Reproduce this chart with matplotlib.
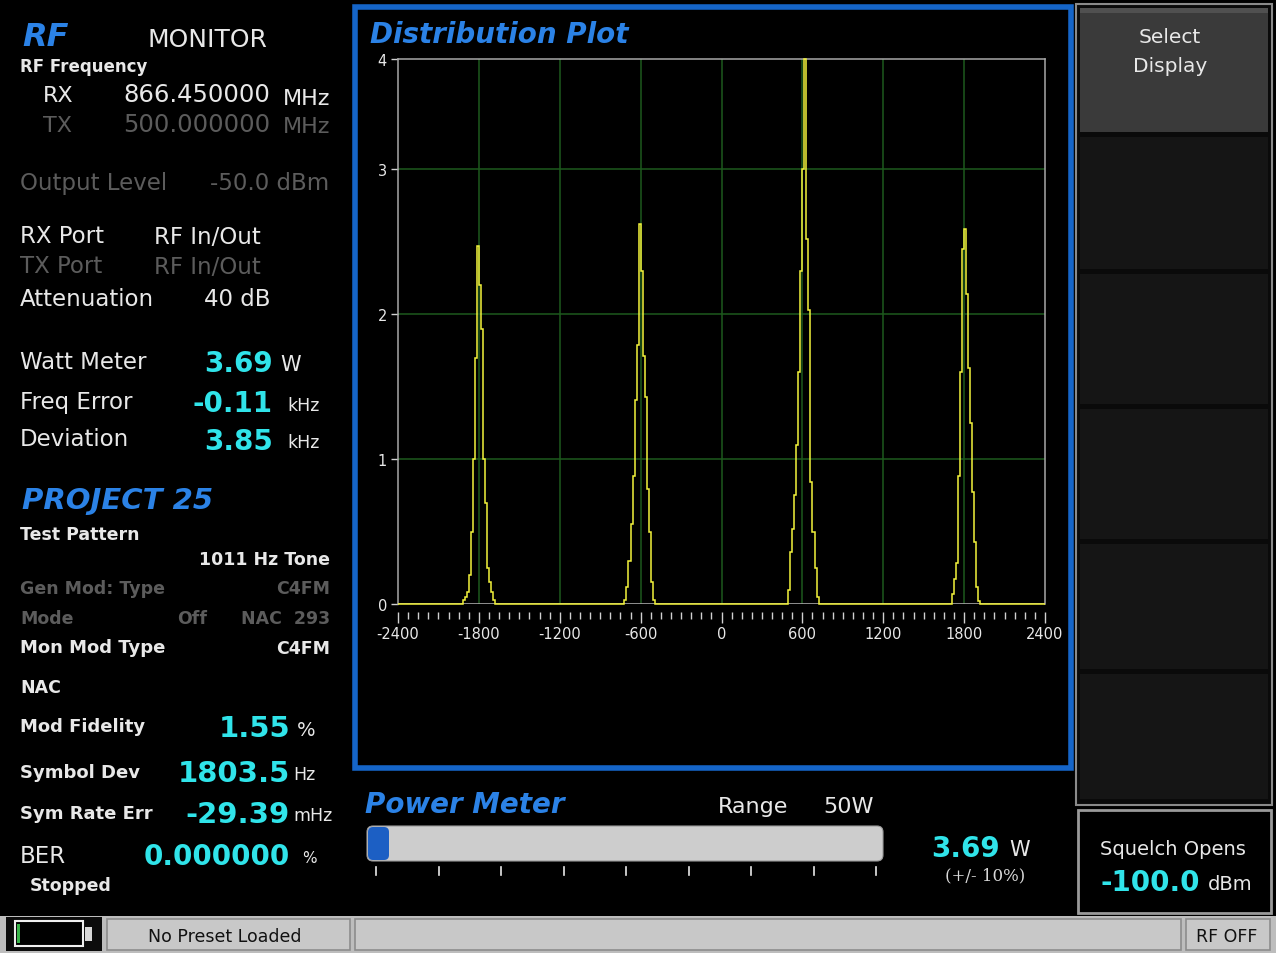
import matplotlib
matplotlib.use("Agg")
import matplotlib.pyplot as plt
import matplotlib.patches as patches
import numpy as np

plt.rcParams["axes.unicode_minus"] = False

# distribution histogram (deviation in Hz, 15 Hz bins)
bin_hz = 15
x_range = (-2400, 2400)
peak_centers = [-1800, -600, 600, 1800]
peak_starts = [-120, -120, -105, -90]  # first bin, relative to the centre
peak1 = [0.03, 0.05, 0.08, 0.2, 0.5, 1.0, 1.7, 2.47, 2.2, 1.9, 1.0, 0.7, 0.25, 0.15, 0.08, 0.03]
peak2 = [0.03, 0.12, 0.3, 0.55, 0.88, 1.41, 1.79, 2.62, 2.3, 1.71, 1.43, 0.79, 0.5, 0.15, 0.03]
peak3 = [0.1, 0.36, 0.52, 0.75, 1.1, 1.6, 2.3, 3.0, 3.76, 2.52, 2.03, 0.84, 0.5, 0.25, 0.05]
peak4 = [0.07, 0.17, 0.28, 0.88, 1.6, 2.45, 2.59, 2.14, 1.63, 1.25, 0.77, 0.43, 0.12, 0.02]
y_top = 3.76
y_ticks = [0, 1, 2, 3, y_top]
y_tick_labels = ["0", "1", "2", "3", "4"]
x_ticks = list(range(-2400, 2401, 600))

# readouts
watt = "3.69"
freq_err = "-0.11"
deviation = "3.85"
mod_fidelity = "1.55"
symbol_dev = "1803.5"
sym_rate_err = "-29.39"
ber = "0.000000"
squelch = "-100.0"
meter_range = "50W"
meter_fill_px = 21

BLACK = "#000000"
WHITE = "#e8e8e8"
GRAY = "#5c5c5c"
CYAN = "#30e4ea"
BLUE = "#2b82e6"
FRAME = "#1565c8"

fig = plt.figure(figsize=(12.76, 9.54), dpi=100, facecolor=BLACK)
ov = fig.add_axes([0, 0, 1, 1])
ov.set_xlim(0, 1276)
ov.set_ylim(954, 0)
ov.axis("off")
ov.set_facecolor(BLACK)


def put(x, y, s, size=15, color=WHITE, weight="normal", style="normal", ha="left"):
    ov.text(x, y, s, fontsize=size, color=color, fontweight=weight,
            fontstyle=style, ha=ha, va="baseline")


def box(x0, y0, x1, y1, fc, ec="none", lw=0, z=1):
    ov.add_patch(patches.Rectangle((x0, y0), x1 - x0, y1 - y0, facecolor=fc,
                                   edgecolor=ec, linewidth=lw, zorder=z))


# ---- left panel ----
put(22, 46, "RF", 23, BLUE, "bold", "italic")
put(147, 47, "MONITOR", 18)
put(20, 72, "RF Frequency", 12, weight="bold")
put(43, 102, "RX", 16)
put(123, 102, "866.450000", 17.5)
put(283, 105, "MHz", 16)
put(43, 132, "TX", 16, GRAY)
put(123, 132, "500.000000", 17.5, GRAY)
put(283, 133, "MHz", 16, GRAY)
put(20, 190, "Output Level", 16.5, GRAY)
put(210, 190, "-50.0 dBm", 16.5, GRAY)
put(20, 243, "RX Port", 16.5)
put(154, 244, "RF In/Out", 16.5)
put(20, 273, "TX Port", 16.5, GRAY)
put(154, 274, "RF In/Out", 16.5, GRAY)
put(20, 306, "Attenuation", 16.5)
put(204, 306, "40 dB", 16.5)

put(20, 369, "Watt Meter", 16.5)
put(273, 372, watt, 20, CYAN, "bold", ha="right")
put(280, 371, "W", 15)
put(20, 409, "Freq Error", 16.5)
put(273, 412, freq_err, 20, CYAN, "bold", ha="right")
put(287, 411, "kHz", 12.5)
put(20, 446, "Deviation", 16.5)
put(273, 450, deviation, 20, CYAN, "bold", ha="right")
put(287, 448, "kHz", 12.5)

put(22, 509, "PROJECT 25", 21, BLUE, "bold", "italic")
put(20, 540, "Test Pattern", 12.5, weight="bold")
put(330, 565, "1011 Hz Tone", 12.5, weight="bold", ha="right")
put(20, 594, "Gen Mod: Type", 12.5, GRAY, "bold")
put(330, 594, "C4FM", 12.5, GRAY, "bold", ha="right")
put(20, 624, "Mode", 12.5, GRAY, "bold")
put(177, 624, "Off", 12.5, GRAY, "bold")
put(330, 624, "NAC  293", 12.5, GRAY, "bold", ha="right")
put(20, 653, "Mon Mod Type", 13, weight="bold")
put(330, 654, "C4FM", 12.5, weight="bold", ha="right")
put(20, 693, "NAC", 12.5, weight="bold")
put(20, 732, "Mod Fidelity", 13, weight="bold")
put(290, 737, mod_fidelity, 21, CYAN, "bold", ha="right")
put(297, 736, "%", 14)
put(20, 778, "Symbol Dev", 13, weight="bold")
put(290, 782, symbol_dev, 21, CYAN, "bold", ha="right")
put(293, 780, "Hz", 12.5)
put(20, 819, "Sym Rate Err", 13, weight="bold")
put(290, 823, sym_rate_err, 21, CYAN, "bold", ha="right")
put(293, 821, "mHz", 12.5)
put(20, 863, "BER", 16.5)
put(290, 865, ber, 20, CYAN, "bold", ha="right")
put(302, 863, "%", 11)
put(30, 891, "Stopped", 12.5, weight="bold")

# ---- distribution plot panel ----
ov.add_patch(patches.Rectangle((355, 8), 716, 761, facecolor="none",
                               edgecolor=FRAME, linewidth=4, zorder=2))
put(370, 43, "Distribution Plot", 20, BLUE, "bold", "italic")

ax = fig.add_axes([398 / 1276, 1 - 605 / 954, (1045 - 398) / 1276, (605 - 60) / 954])
ax.set_facecolor(BLACK)
edges = np.arange(x_range[0], x_range[1] + bin_hz, bin_hz)
counts = np.zeros(len(edges) - 1)
for c, s, vals in zip(peak_centers, peak_starts, [peak1, peak2, peak3, peak4]):
    i0 = (c + s - x_range[0]) // bin_hz
    counts[i0:i0 + len(vals)] = vals
ax.set_xlim(*x_range)
ax.set_ylim(0, y_top)
for xv in x_ticks[1:-1]:
    ax.axvline(xv, color="#1d5a1d", lw=1.1, zorder=1)
for yv in y_ticks[1:-1]:
    ax.axhline(yv, color="#1d5a1d", lw=1.1, zorder=1)
ax.axhline(0, color="#a8a8a8", lw=1.2, zorder=2)
ax.stairs(counts, edges, color="#f4f43c", lw=1.1, zorder=3, clip_on=False)
for side in ["top", "left", "right"]:
    ax.spines[side].set_color("#a8a8a8")
    ax.spines[side].set_linewidth(1.1)
ax.spines["bottom"].set_position(("outward", 6))
ax.spines["bottom"].set_visible(False)
ax.set_xticks(x_ticks)
ax.set_xticks(np.arange(-2400, 2401, 75), minor=True)
ax.set_yticks(y_ticks)
ax.set_yticklabels(y_tick_labels)
ax.tick_params(axis="x", which="major", length=8, width=1, color="#d0d0d0",
               labelcolor=WHITE, labelsize=10.5, pad=2)
ax.tick_params(axis="x", which="minor", length=5, width=1, color="#d0d0d0")
ax.tick_params(axis="y", length=5, width=1, color="#d0d0d0",
               labelcolor=WHITE, labelsize=10.5, pad=3)

# ---- power meter ----
put(365, 813, "Power Meter", 20, BLUE, "bold", "italic")
put(718, 813, "Range", 16)
put(823, 813, meter_range, 16)
ov.add_patch(patches.FancyBboxPatch((367, 827), 516, 35,
                                    boxstyle="round,pad=0,rounding_size=6",
                                    facecolor="#cdcdcd", edgecolor="#9a9a9a", lw=0.8, zorder=2))
ov.add_patch(patches.FancyBboxPatch((368, 828), meter_fill_px, 33,
                                    boxstyle="round,pad=0,rounding_size=5",
                                    facecolor="#1c5fc4", edgecolor="none", zorder=3))
for tx in np.linspace(376, 876, 9):
    ov.plot([tx, tx], [868, 876], color=WHITE, lw=1.2, zorder=3)
put(1000, 857, watt, 20, CYAN, "bold", ha="right")
put(1009, 856, "W", 15)
ov.text(985, 880, "(+/- 10%)", fontsize=12, color="#d8d8d8", family="DejaVu Serif",
        ha="center", va="baseline")

# ---- right button column ----
ov.add_patch(patches.Rectangle((1076, 5), 196, 801, facecolor="#0a0a0a",
                               edgecolor="#8a8a8a", lw=1.5, zorder=1))
box(1080, 9, 1268, 133, "#3a3a3a", z=2)
box(1080, 9, 1268, 14, "#505050", z=2)
for y0, y1 in [(138, 270), (275, 405), (410, 540), (545, 670), (675, 800)]:
    box(1080, y0, 1268, y1, "#151515", z=2)
put(1170, 43, "Select", 14.5, ha="center")
put(1170, 72, "Display", 14.5, ha="center")

ov.add_patch(patches.Rectangle((1078, 811), 193, 103, facecolor=BLACK,
                               edgecolor="#9a9a9a", lw=2, zorder=1))
put(1173, 855, "Squelch Opens", 14, ha="center")
put(1200, 891, squelch, 20, CYAN, "bold", ha="right")
put(1208, 890, "dBm", 14)

# ---- status bar ----
box(0, 917, 1276, 954, "#bdbdbd", z=1)
box(6, 918, 102, 952, "#0c0c0c", z=2)
ov.add_patch(patches.Rectangle((15, 922), 68, 25, facecolor=BLACK,
                               edgecolor="#f0f0f0", lw=1.5, zorder=3))
box(17, 925, 20, 944, "#39b54a", z=4)
box(85, 928, 92, 942, "#d8d8d8", z=3)
for x0, x1 in [(107, 350), (355, 1181), (1186, 1270)]:
    ov.add_patch(patches.Rectangle((x0, 920), x1 - x0, 31, facecolor="#c8c8c8",
                                   edgecolor="#8c8c8c", lw=1.2, zorder=2))
put(225, 942, "No Preset Loaded", 12.5, "#111111", ha="center")
put(1227, 942, "RF OFF", 12.5, "#111111", ha="center")

fig.savefig("out.png", dpi=100, facecolor=BLACK)
